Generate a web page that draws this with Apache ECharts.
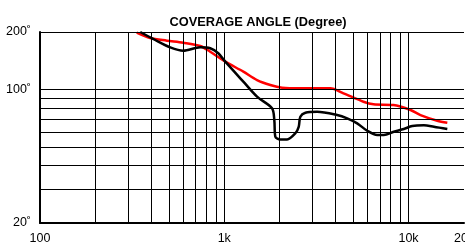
<!DOCTYPE html>
<html>
<head>
<meta charset="utf-8">
<script src="https://cdn.jsdelivr.net/npm/echarts@6/dist/echarts.min.js"></script>
<style>
  html, body { margin: 0; padding: 0; background: #fff; }
  #chart { width: 465px; height: 246px; }
</style>
</head>
<body>
<div id="chart"></div>
<script>
const titleText = "COVERAGE ANGLE (Degree)";

const xLabelValues = [100, 1000, 10000, 20000];
const xLabelNames = { 100: "100", 1000: "1k", 10000: "10k", 20000: "20k" };
const yLabelValues = [20, 100, 200];

const xGridValues = [200, 300, 400, 500, 600, 700, 800, 900, 1000,
  2000, 3000, 4000, 5000, 6000, 7000, 8000, 9000, 10000];
const yGridValues = [30, 40, 50, 60, 70, 80, 90, 100, 200];

// red trace (frequency Hz, angle deg)
const redFreq = [335, 396, 488, 599, 741, 839, 1013, 1269, 1506, 1778, 2059, 2588,
  3767, 4434, 5693, 6454, 8283, 10254, 11614, 14322, 16236];
const redAngle = [198.3, 185.9, 180.2, 175.8, 169, 157.7, 139.9, 124, 112.1, 105.6, 102.2, 101.4,
  101.4, 95.5, 86.3, 83.6, 82.9, 78.1, 73.5, 68.6, 67];

// black trace
const blackFreq = [350, 422, 509, 599, 741, 839, 928, 1013, 1269, 1506, 1816, 1869, 1893,
  2015, 2193, 2432, 2535, 2588, 2756, 3190, 4098, 4644, 5263, 5965, 6760, 7341,
  8318, 9430, 10475, 12110, 13727, 16236];
const blackAngle = [200, 181.6, 166.3, 159.6, 166.3, 164.3, 154.7, 139.9, 109.9, 91.7, 79.7, 69.2, 56.6,
  54.8, 54.8, 59, 63.8, 72, 75.6, 76.5, 73.5, 70.6, 66.5, 60.8, 57.8, 57.8,
  60.1, 62.1, 64.4, 64.9, 63.8, 62.1];

const zip = (xs, ys) => xs.map((x, i) => [x, ys[i]]);

const chart = echarts.init(document.getElementById("chart"), null, { renderer: "canvas" });

const gridLines = [
  ...xGridValues.map((v) => ({ xAxis: v })),
  ...yGridValues.map((v) => ({ yAxis: v })),
];

chart.setOption({
  animation: false,
  backgroundColor: "#fff",
  textStyle: { fontFamily: "Liberation Sans" },
  title: {
    text: titleText,
    left: 253,
    textAlign: "center",
    top: 11,
    textStyle: { fontSize: 12.8, fontWeight: "bold", color: "#000", fontFamily: "Liberation Sans" },
  },
  grid: { left: 40, right: 1, top: 32, bottom: 23, containLabel: false, outerBoundsMode: "none" },
  xAxis: {
    type: "log",
    logBase: 10,
    min: 100,
    max: 20000,
    axisLine: { show: true, lineStyle: { color: "#000", width: 2 } },
    axisTick: { show: false },
    splitLine: { show: false },
    minorSplitLine: { show: false },
    axisLabel: {
      customValues: xLabelValues,
      formatter: (v) => xLabelNames[Math.round(v)] ?? "",
      color: "#000",
      fontSize: 12.5,
      margin: 9,
      showMaxLabel: true,
      showMinLabel: true,
      hideOverlap: false,
    },
  },
  yAxis: {
    type: "log",
    logBase: 10,
    min: 20,
    max: 200,
    axisLine: { show: true, lineStyle: { color: "#000", width: 2 } },
    axisTick: { show: false },
    splitLine: { show: false },
    axisLabel: {
      customValues: yLabelValues,
      formatter: (v) => Math.round(v) + "˚",
      color: "#000",
      fontSize: 12.5,
      margin: 9,
      showMaxLabel: true,
      showMinLabel: true,
    },
  },
  series: [
    {
      name: "grid",
      type: "line",
      data: [],
      silent: true,
      z: 1,
      markLine: {
        silent: true,
        symbol: ["none", "none"],
        label: { show: false },
        lineStyle: { color: "#000", width: 1, type: "solid" },
        emphasis: { disabled: true },
        data: gridLines,
        animation: false,
      },
    },
    {
      name: "Red",
      type: "line",
      smooth: 0.3,
      symbol: "none",
      z: 3,
      lineStyle: { color: "#ff0000", width: 2.5 },
      data: zip(redFreq, redAngle),
    },
    {
      name: "Black",
      type: "line",
      smooth: 0.3,
      symbol: "none",
      z: 4,
      lineStyle: { color: "#000", width: 2.5 },
      data: zip(blackFreq, blackAngle),
    },
  ],
});
</script>
</body>
</html>
